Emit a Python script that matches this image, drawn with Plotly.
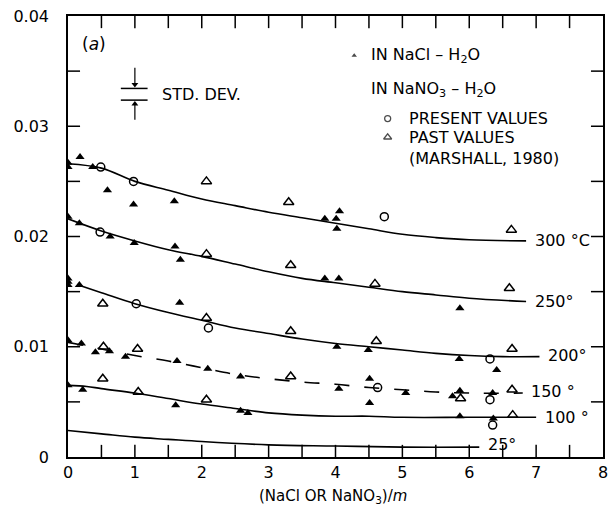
import plotly.graph_objects as go

# ---- fitted curves (molality, ionization constant term) ----
c300_x = [0, 0.5, 1, 1.5, 2, 2.5, 3, 3.5, 4, 4.5, 5, 5.5, 6, 6.85]
c300_y = [0.0266, 0.0262, 0.0250, 0.0242, 0.0234, 0.0228, 0.0222, 0.0217, 0.0212, 0.0207, 0.0202, 0.0199, 0.0197, 0.0196]
c250_x = [0, 0.5, 1, 1.5, 2, 2.5, 3, 3.5, 4, 4.5, 5, 5.5, 6, 6.85]
c250_y = [0.0216, 0.0205, 0.0196, 0.0188, 0.0182, 0.0175, 0.0168, 0.0162, 0.0158, 0.0154, 0.0150, 0.0147, 0.0144, 0.0141]
c200_x = [0.2, 0.5, 1, 1.5, 2, 2.5, 3, 3.5, 4, 4.5, 5, 5.5, 6, 6.5, 7.05]
c200_y = [0.0155, 0.0149, 0.0139, 0.0131, 0.0124, 0.0117, 0.0112, 0.0107, 0.0103, 0.0100, 0.0097, 0.0094, 0.0092, 0.0091, 0.0091]
c150_x = [0, 0.5, 1, 1.5, 2, 2.5, 3, 3.5, 4, 4.5, 5, 5.5, 6, 6.8]
c150_y = [0.0104, 0.0098, 0.0092, 0.0087, 0.0081, 0.0075, 0.0071, 0.0068, 0.0066, 0.0063, 0.0061, 0.0059, 0.0058, 0.0058]
c100_x = [0, 0.28, 0.5, 1, 1.5, 2, 2.5, 3, 3.5, 4, 4.5, 5, 6, 7.0]
c100_y = [0.0065, 0.0064, 0.0062, 0.0058, 0.0053, 0.0048, 0.0044, 0.0040, 0.0038, 0.0037, 0.0037, 0.0036, 0.0036, 0.0036]
c25_x = [0, 0.5, 1, 1.5, 2, 3, 4, 5, 6.15]
c25_y = [0.0024, 0.0021, 0.0018, 0.0016, 0.0014, 0.0011, 0.0010, 0.0009, 0.0009]

# ---- NaCl-H2O measurements (filled triangles) ----
nacl_x = [0, 0, 0.18, 0.37, 0.59, 0.98, 1.59, 3.84, 4.06, 4.01, 4.02,
          0, 0.17, 0.63, 0.99, 1.60, 1.68, 3.84, 4.05, 5.86,
          0, 0, 0, 0.17, 1.67, 4.02, 4.49, 5.85, 6.41,
          0, 0.20, 0.41, 0.62, 0.86, 1.63, 2.09, 2.58, 4.05, 4.51, 4.51, 5.05, 5.75, 5.86, 6.35,
          0, 0.22, 1.61, 2.58, 2.69, 5.86, 6.36]
nacl_y = [0.0267, 0.0263, 0.0272, 0.0263, 0.0242, 0.0229, 0.0232, 0.0216, 0.0223, 0.0216, 0.0207,
          0.0218, 0.0212, 0.0200, 0.0194, 0.0191, 0.0179, 0.0162, 0.0162, 0.0135,
          0.0162, 0.0159, 0.0156, 0.0156, 0.0140, 0.0100, 0.0097, 0.0089, 0.0079,
          0.0106, 0.0103, 0.0095, 0.0096, 0.0091, 0.0087, 0.0080, 0.0073, 0.0062, 0.0071, 0.0049, 0.0058, 0.0055, 0.0060, 0.0058,
          0.0065, 0.0061, 0.0047, 0.0042, 0.0040, 0.0037, 0.0035]

# ---- NaNO3-H2O present values (open circles) ----
pres_x = [0.49, 0.98, 4.73, 0.48, 1.02, 2.10, 6.31, 4.63, 6.31, 6.35]
pres_y = [0.0263, 0.0250, 0.0218, 0.0204, 0.0139, 0.0117, 0.0089, 0.0063, 0.0052, 0.0029]

# ---- NaNO3-H2O past values, Marshall 1980 (open triangles) ----
past_x = [2.07, 3.30, 6.63, 2.07, 3.33, 4.59, 6.60, 0.52, 2.07, 3.33, 4.61, 6.64,
          0.53, 1.04, 3.33, 5.87, 6.64, 0.52, 1.05, 2.07, 6.65]
past_y = [0.0250, 0.0231, 0.0206, 0.0184, 0.0174, 0.0157, 0.0153, 0.0139, 0.0126, 0.0114, 0.0105, 0.0098,
          0.0100, 0.0098, 0.0073, 0.0053, 0.0061, 0.0071, 0.0059, 0.0052, 0.0038]

# curve labels
curve_labels = ["300 °C", "250°", "200°", "150 °", "100 °", "25°"]
curve_label_x = [6.95, 6.95, 7.15, 6.9, 7.1, 6.25]
curve_label_y = [0.0196, 0.0141, 0.0092, 0.0059, 0.0036, 0.0011]

# axis ranges, tick marks every half step on all four sides, labels on whole steps
X_RANGE = [0, 8]
Y_RANGE = [0, 0.04]
x_ticks = [0.5, 1, 1.5, 2, 2.5, 3, 3.5, 4, 4.5, 5, 5.5, 6, 6.5, 7, 7.5]
y_ticks = [0.005, 0.01, 0.015, 0.02, 0.025, 0.03, 0.035]
x_labels = [0, 1, 2, 3, 4, 5, 6, 7, 8]
y_labels = [0, 0.01, 0.02, 0.03, 0.04]
y_label_text = ["0", "0.01", "0.02", "0.03", "0.04"]
X_TICK_LEN = 0.0011   # tick length along y, in data units (about 12 px)
Y_TICK_LEN = 0.18     # tick length along x, in data units (about 12 px)

FONT = "DejaVu Sans"
INK = "black"

fig = go.Figure()

curves = [(c300_x, c300_y, "solid"), (c250_x, c250_y, "solid"), (c200_x, c200_y, "solid"),
          (c150_x, c150_y, "longdash"), (c100_x, c100_y, "solid"), (c25_x, c25_y, "solid")]
for cx, cy, dash in curves:
    fig.add_trace(go.Scatter(x=cx, y=cy, mode="lines", line=dict(color=INK, width=1.6, dash=dash, shape="spline"),
                             showlegend=False, hoverinfo="skip"))

fig.add_trace(go.Scatter(x=nacl_x, y=nacl_y, mode="markers",
                         marker=dict(symbol="triangle-up", size=8, color=INK), showlegend=False))
fig.add_trace(go.Scatter(x=pres_x, y=pres_y, mode="markers",
                         marker=dict(symbol="circle-open", size=8, color=INK, line=dict(width=1.5)), showlegend=False))
fig.add_trace(go.Scatter(x=past_x, y=past_y, mode="markers",
                         marker=dict(symbol="triangle-up-open", size=9, color=INK, line=dict(width=1.5)), showlegend=False))

# inward tick marks on all four sides, built from the tick lists
tick_x, tick_y = [], []
for t in x_ticks:
    tick_x += [t, t, None, t, t, None]
    tick_y += [Y_RANGE[0], Y_RANGE[0] + X_TICK_LEN, None, Y_RANGE[1], Y_RANGE[1] - X_TICK_LEN, None]
for t in y_ticks:
    tick_x += [X_RANGE[0], X_RANGE[0] + Y_TICK_LEN, None, X_RANGE[1], X_RANGE[1] - Y_TICK_LEN, None]
    tick_y += [t, t, None, t, t, None]
fig.add_trace(go.Scatter(x=tick_x, y=tick_y, mode="lines", line=dict(color=INK, width=1.5),
                         showlegend=False, hoverinfo="skip"))

# legend glyphs
leg_sym_x = [4.28, 4.78, 4.78]
leg_sym_y = [0.0364, 0.0307, 0.0290]
leg_sym = ["triangle-up", "circle-open", "triangle-up-open"]
leg_size = [7, 6, 7]
fig.add_trace(go.Scatter(x=leg_sym_x, y=leg_sym_y, mode="markers",
                         marker=dict(symbol=leg_sym, size=leg_size, color=INK, line=dict(width=1.3)),
                         showlegend=False, hoverinfo="skip"))

legend_text = [("IN NaCl – H<sub>2</sub>O", 4.5, 0.0364),
               ("IN NaNO<sub>3</sub> – H<sub>2</sub>O", 4.5, 0.0333),
               ("PRESENT VALUES", 5.07, 0.0307),
               ("PAST VALUES", 5.07, 0.0290),
               ("(MARSHALL, 1980)", 5.07, 0.0271)]
for t, tx, ty in legend_text:
    fig.add_annotation(x=tx, y=ty, text=t, showarrow=False, xanchor="left", yanchor="middle",
                       font=dict(family=FONT, size=16, color=INK))

for t, tx, ty in zip(curve_labels, curve_label_x, curve_label_y):
    fig.add_annotation(x=tx, y=ty, text=t, showarrow=False, xanchor="left", yanchor="middle",
                       font=dict(family=FONT, size=16, color=INK))

fig.add_annotation(x=0.18, y=0.0375, text="(<i>a</i>)", showarrow=False, xanchor="left", yanchor="middle",
                   font=dict(family=FONT, size=17, color=INK))

# standard deviation marker: two bars with inward-pointing arrows
sd_lo, sd_hi = 0.03237, 0.03343
sd_x = 1.0
fig.add_shape(type="line", x0=0.79, x1=1.19, y0=sd_hi, y1=sd_hi, line=dict(color=INK, width=1.5))
fig.add_shape(type="line", x0=0.79, x1=1.19, y0=sd_lo, y1=sd_lo, line=dict(color=INK, width=1.5))
fig.add_shape(type="line", x0=sd_x, x1=sd_x, y0=0.0353, y1=sd_hi + 0.0003, line=dict(color=INK, width=1.2))
fig.add_shape(type="line", x0=sd_x, x1=sd_x, y0=0.0306, y1=sd_lo - 0.0003, line=dict(color=INK, width=1.2))
fig.add_trace(go.Scatter(x=[sd_x, sd_x], y=[sd_hi + 0.00035, sd_lo - 0.00035], mode="markers",
                         marker=dict(symbol=["triangle-down", "triangle-up"], size=6, color=INK),
                         showlegend=False, hoverinfo="skip"))
fig.add_annotation(x=1.38, y=0.0329, text="STD. DEV.", showarrow=False, xanchor="left", yanchor="middle",
                   font=dict(family=FONT, size=16, color=INK))

# axis title
fig.add_annotation(x=0.495, y=-0.09, xref="paper", yref="paper",
                   text="(NaCl OR NaNO<sub>3</sub>)/<i>m</i>", showarrow=False,
                   xanchor="center", yanchor="middle", font=dict(family=FONT, size=15, color=INK))

tickfont = dict(family=FONT, size=16, color=INK)
fig.update_xaxes(range=X_RANGE, tickvals=x_labels, ticks="", showline=True, linecolor=INK, linewidth=1.5,
                 mirror=True, showgrid=False, zeroline=False, tickfont=tickfont)
fig.update_yaxes(range=Y_RANGE, tickvals=y_labels, ticktext=y_label_text, ticks="",
                 showline=True, linecolor=INK, linewidth=1.5, mirror=True, showgrid=False, zeroline=False,
                 tickfont=tickfont, ticklabelstandoff=14)

fig.update_layout(width=614, height=509, margin=dict(l=68, r=6, t=16, b=52),
                  plot_bgcolor="white", paper_bgcolor="white", showlegend=False)

fig.write_html("out.html")
